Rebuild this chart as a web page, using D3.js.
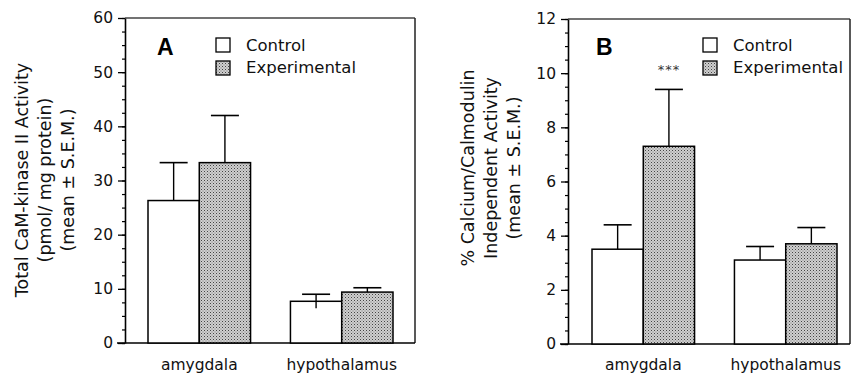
<!DOCTYPE html>
<html>
<head>
<meta charset="utf-8">
<script src="https://cdn.jsdelivr.net/npm/d3@7"></script>
<style>
  body { margin: 0; background: #fff; }
  svg { display: block; font-family: "DejaVu Sans", sans-serif; }
</style>
</head>
<body>
<div id="graph"></div>
<script>
const width = 851, height = 375;

// data
const categories = ["amygdala", "hypothalamus"];
const seriesNames = ["Control", "Experimental"];

// panel A: total CaM-kinase II activity
const totalControl = [26.3, 7.7];
const totalControlSem = [7.0, 1.3];
const totalExp = [33.3, 9.4];
const totalExpSem = [8.7, 0.8];
const totalLowerWhisker = [[false, false], [true, false]];
const yTicksA = [0, 10, 20, 30, 40, 50, 60];

// panel B: % calcium/calmodulin independent activity
const indepControl = [3.5, 3.1];
const indepControlSem = [0.9, 0.5];
const indepExp = [7.3, 3.7];
const indepExpSem = [2.1, 0.6];
const indepLowerWhisker = [[false, false], [false, false]];
const yTicksB = [0, 2, 4, 6, 8, 10, 12];
const starsB = ["", "***"]; // per series, on amygdala

var svg = d3.select("div#graph").append("svg")
  .attr("width", width).attr("height", height);

var defs = svg.append("defs");
var pat = defs.append("pattern")
  .attr("id", "stipple").attr("patternUnits", "userSpaceOnUse")
  .attr("width", 3).attr("height", 3);
pat.append("rect").attr("width", 3).attr("height", 3).attr("fill", "#cfcfcf");
pat.append("rect").attr("width", 1).attr("height", 1).attr("fill", "#444");
pat.append("rect").attr("x", 1.5).attr("y", 1.5).attr("width", 1).attr("height", 1).attr("fill", "#7a7a7a");

const fills = ["#fff", "url(#stipple)"];

function drawPanel(p) {
  var g = svg.append("g");
  var y = d3.scaleLinear().domain([0, p.ticks[p.ticks.length - 1]]).range([p.bottom, p.top]);
  var x = d3.scaleBand().domain(categories).range(p.barRange).paddingInner(0.28);
  var xs = d3.scaleBand().domain(seriesNames).range([0, x.bandwidth()]);

  // frame top + right
  g.append("line").attr("x1", p.axisX).attr("x2", p.right).attr("y1", p.top).attr("y2", p.top)
    .attr("stroke", "#444").attr("stroke-width", 1.6);
  g.append("line").attr("x1", p.right).attr("x2", p.right).attr("y1", p.top).attr("y2", p.bottom)
    .attr("stroke", "#222").attr("stroke-width", 1.5);

  // minor ticks
  var minor = g.append("g").attr("transform", "translate(" + p.axisX + ",0)")
    .call(d3.axisLeft(y).tickValues(d3.range(0, y.domain()[1] + 0.001, p.minorStep))
      .tickSize(3).tickSizeOuter(0).tickFormat(""));
  minor.select(".domain").remove();
  minor.selectAll("line").attr("stroke", "#000").attr("stroke-width", 1.2);

  var ax = g.append("g").attr("transform", "translate(" + p.axisX + ",0)")
    .call(d3.axisLeft(y).tickValues(p.ticks).tickSize(7).tickSizeOuter(0).tickPadding(5));
  ax.select(".domain").attr("stroke", "#000").attr("stroke-width", 1.6);
  ax.selectAll(".tick line").attr("stroke", "#000").attr("stroke-width", 1.3);
  ax.selectAll(".tick text").attr("font-size", 15.5).attr("fill", "#111")
    .attr("font-family", "DejaVu Sans");

  // baseline
  g.append("line").attr("x1", p.axisX - 8).attr("x2", p.right).attr("y1", y(0)).attr("y2", y(0))
    .attr("stroke", "#000").attr("stroke-width", 1.6);

  // bars
  categories.forEach(function (c, i) {
    seriesNames.forEach(function (s, j) {
      var v = p.values[j][i], e = p.sems[j][i];
      var bx = x(c) + xs(s), bw = xs.bandwidth();
      var cx = bx + bw / 2;
      var lo = p.lower[i][j] ? v - e : v;
      g.append("line").attr("x1", cx).attr("x2", cx).attr("y1", y(lo)).attr("y2", y(v + e))
        .attr("stroke", "#000").attr("stroke-width", 1.4);
      g.append("line").attr("x1", cx - 14).attr("x2", cx + 14).attr("y1", y(v + e)).attr("y2", y(v + e))
        .attr("stroke", "#000").attr("stroke-width", 1.6);
      g.append("rect").attr("x", bx).attr("y", y(v)).attr("width", bw).attr("height", y(0) - y(v))
        .attr("fill", fills[j]).attr("stroke", "#000").attr("stroke-width", 1.5);
      if (p.lower[i][j]) {
        g.append("line").attr("x1", cx).attr("x2", cx).attr("y1", y(v)).attr("y2", y(v - e))
          .attr("stroke", "#000").attr("stroke-width", 1.4);
      }
      if (p.stars && i == 0 && p.stars[j]) {
        g.append("text").attr("x", cx).attr("y", y(v + e) - 15).attr("text-anchor", "middle")
          .attr("font-size", 13).attr("letter-spacing", 1).attr("fill", "#333").text(p.stars[j]);
      }
    });
    g.append("text").attr("x", x(c) + x.bandwidth() / 2).attr("y", 370)
      .attr("text-anchor", "middle").attr("font-size", 15.5).attr("fill", "#111").text(c);
  });

  // panel letter
  g.append("text").attr("x", p.letterX).attr("y", 55).attr("font-size", 23)
    .attr("font-weight", "bold").attr("font-family", "Liberation Sans, Arial, sans-serif").text(p.letter);

  // legend
  seriesNames.forEach(function (s, j) {
    g.append("rect").attr("x", p.legendX).attr("y", 38 + j * 23).attr("width", 14).attr("height", 14)
      .attr("fill", fills[j]).attr("stroke", "#000").attr("stroke-width", 1.3);
    g.append("text").attr("x", p.legendX + 30).attr("y", 51 + j * 22).attr("font-size", 16.5)
      .attr("fill", "#111").text(s);
  });

  // y title
  p.title.forEach(function (t, k) {
    g.append("text")
      .attr("transform", "translate(" + (p.titleX + k * 23) + "," + p.titleY + ") rotate(-90)")
      .attr("text-anchor", "middle").attr("dominant-baseline", "central")
      .attr("font-size", 17.5).attr("fill", "#111").text(t);
  });
}

drawPanel({
  values: [totalControl, totalExp], sems: [totalControlSem, totalExpSem], lower: totalLowerWhisker,
  ticks: yTicksA, minorStep: 2.5, top: 18, bottom: 343, axisX: 125, right: 415,
  barRange: [148, 393], letter: "A", letterX: 157, legendX: 216,
  title: ["Total CaM-kinase II Activity", "(pmol/ mg protein)", "(mean \u00b1 S.E.M.)"],
  titleX: 22, titleY: 180
});

drawPanel({
  values: [indepControl, indepExp], sems: [indepControlSem, indepExpSem], lower: indepLowerWhisker,
  ticks: yTicksB, minorStep: 0.5, top: 19, bottom: 344, axisX: 568, right: 850,
  barRange: [592, 837], letter: "B", letterX: 596, legendX: 703, stars: starsB,
  title: ["% Calcium/Calmodulin", "Independent Activity", "(mean \u00b1 S.E.M.)"],
  titleX: 468, titleY: 168
});
</script>
</body>
</html>
